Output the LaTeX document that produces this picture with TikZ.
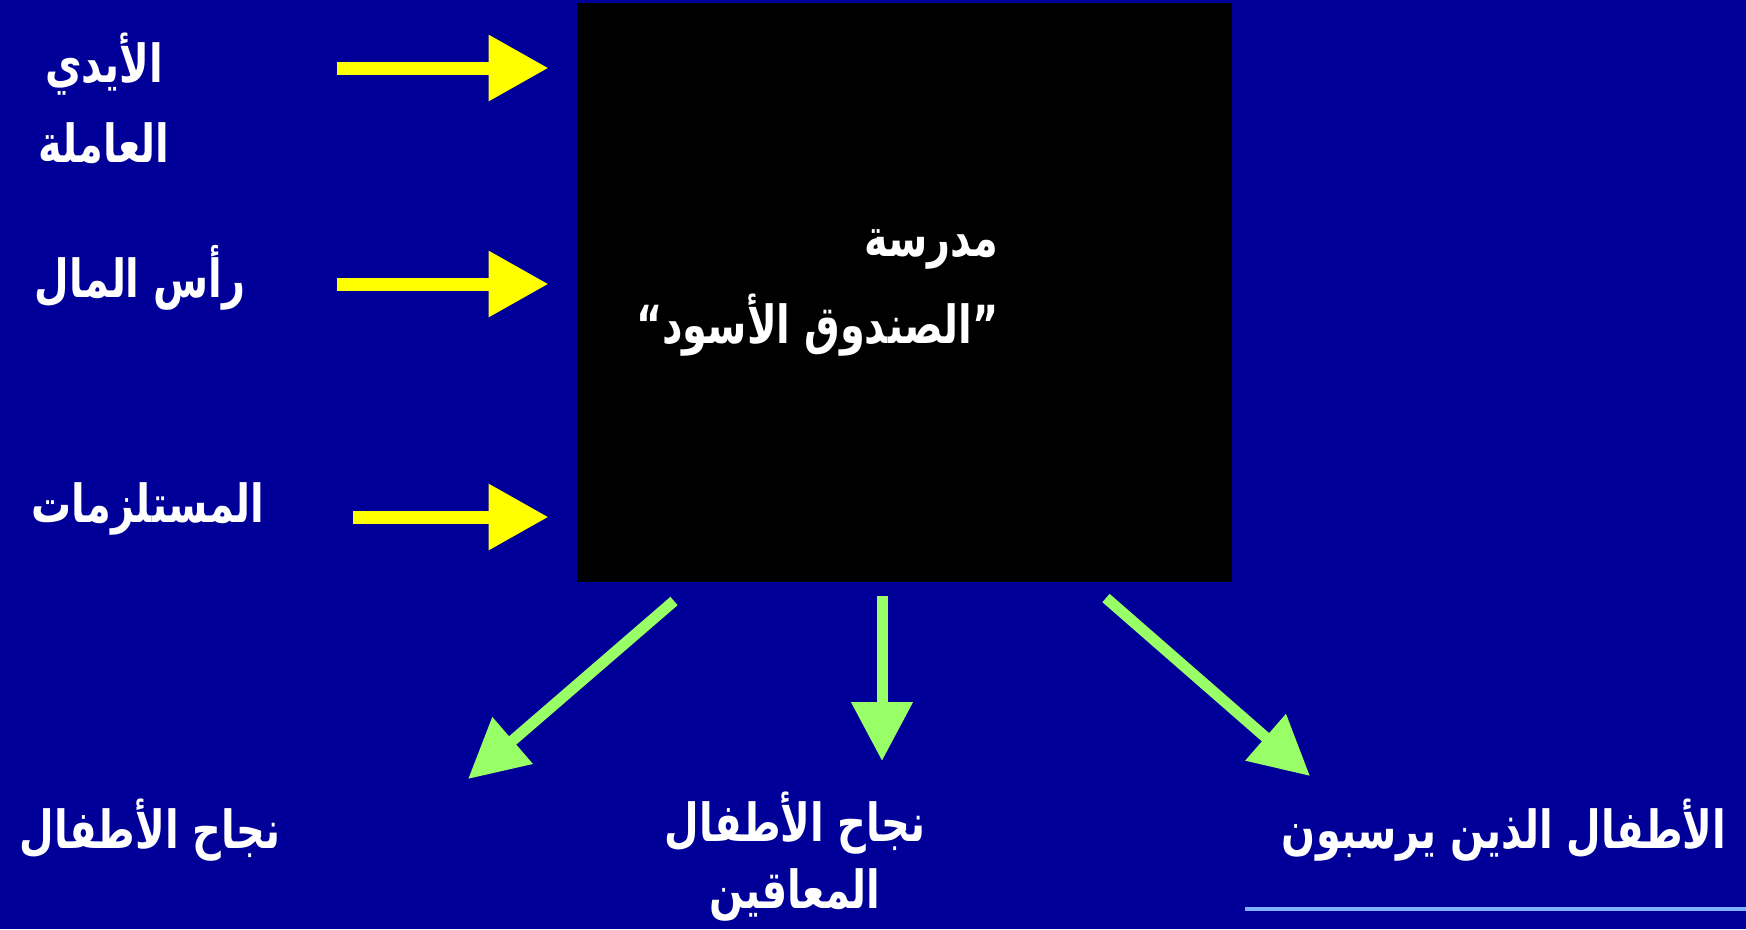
\documentclass[tikz,border=0pt]{standalone}
\usepackage{fontspec}
\usetikzlibrary{arrows.meta,positioning}
\TeXXeTstate=1
\newfontfamily\arabicfont[Script=Arabic,FakeStretch=0.76]{DejaVu Sans}
\definecolor{slideblue}{RGB}{0,0,153}
\definecolor{arrowyellow}{RGB}{255,255,0}
\definecolor{arrowgreen}{RGB}{153,255,102}
\definecolor{lineblue}{RGB}{128,176,255}
\tikzset{
	lbl/.style={
		text=white,
		font=\arabicfont\bfseries\fontsize{21}{32}\selectfont,
		align=center,
		inner sep=0pt
	}
}

\begin{document}
\begin{tikzpicture}[x=0.4pt,y=-0.4pt]
			\tikzstyle{yarrow}=[draw=arrowyellow, line width=5.2pt, -{Triangle[length=24pt,width=25.2pt]}]
			\tikzstyle{garrow}=[draw=arrowgreen, line width=4.4pt, -{Triangle[length=23.6pt,width=23.6pt]}]
			\fill[slideblue] (0,0) rectangle (1746,929);
			\useasboundingbox (0,0) rectangle (1746,929);
			\node[fill=black, minimum width=262pt, minimum height=231.6pt, inner sep=0pt] (box) at (904.5,292.5) {};
			\node[lbl, align=right, anchor=east] (school) at (999,293) {\beginR مدرسة\endR\\[2.8pt]\beginR”الصندوق الأسود“\endR};
			
			\node[lbl] (hands) at (104,98) {\beginR الأيدي\endR\\\beginR العاملة\endR};
			\node[lbl] (capital) at (140,278) {\beginR رأس المال\endR};
			\node[lbl] (supplies) at (148,509) {\beginR المستلزمات\endR};
			
			\node[lbl] (success) at (150,830) {\beginR نجاح الأطفال\endR};
			\node[lbl] (disabled) at (795,857) {\beginR نجاح الأطفال\endR\\[-5.2pt]\beginR المعاقين\endR};
			\node[lbl] (failing) at (1504,830) {\beginR الأطفال الذين يرسبون\endR};
			
			\coordinate (in1) at (337,68);
			\coordinate (in2) at (337,284);
			\coordinate (in3) at (353,517);
			\draw[yarrow, shorten >=11.2pt] (in1) -- (box.west |- in1);
			\draw[yarrow, shorten >=11.2pt] (in2) -- (box.west |- in2);
			\draw[yarrow, shorten >=11.2pt] (in3) -- (box.west |- in3);
			
			\coordinate (out1) at (674,601);
			\coordinate (out2) at (882,596);
			\coordinate (out3) at (1106,598);
			\coordinate (tip1) at (468,779);
			\coordinate (tip2) at (882,761);
			\coordinate (tip3) at (1310,776);
			\draw[garrow] (out1) -- (tip1);
			\draw[garrow] (out2) -- (tip2);
			\draw[garrow] (out3) -- (tip3);
			
			\draw[lineblue, line width=1.8pt] (1245,909) -- (1746,909);
\end{tikzpicture}
\end{document}
